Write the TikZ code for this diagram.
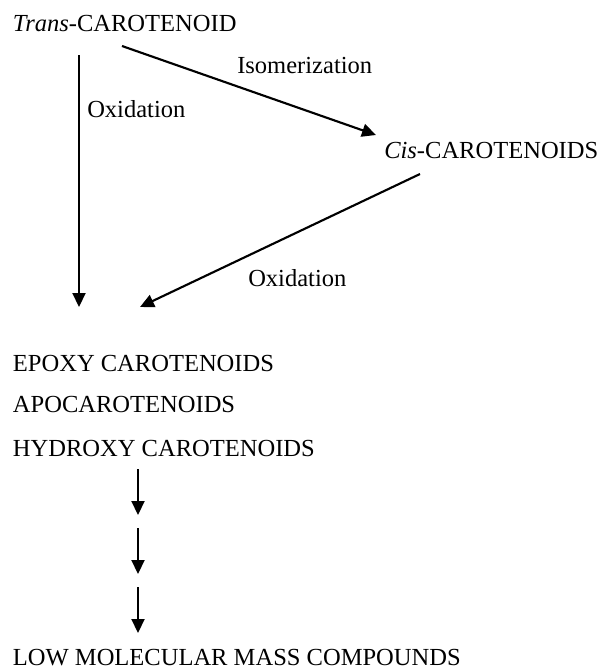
\documentclass[tikz,border=0pt]{standalone}
\usepackage{fontspec}
\setmainfont{Liberation Serif}
\usetikzlibrary{arrows.meta}
\begin{document}
\begin{tikzpicture}[x=0.75pt,y=-0.75pt,
  lbl/.style={anchor=base west,inner sep=0pt,font=\fontsize{18.4}{21}\selectfont},
  arr/.style={line width=1.6pt,-{Triangle[length=10.5pt,width=9.75pt]}}]
\useasboundingbox (0,0) rectangle (600,668);
% main texts
\node[lbl] (trans) at (12.7,31.7) {\textit{Trans}-CAROTENOID};
\node[lbl] (cis) at (384,158) {\textit{Cis}-CAROTENOIDS};
\node[lbl] (epoxy) at (12.7,371) {EPOXY CAROTENOIDS};
\node[lbl] (apo) at (12.7,412.5) {APOCAROTENOIDS};
\node[lbl] (hydroxy) at (12.7,456) {HYDROXY CAROTENOIDS};
\node[lbl] (low) at (12.7,665.5) {LOW MOLECULAR MASS COMPOUNDS};
% labels
\node[lbl] (ox1) at (87,117) {Oxidation};
\node[lbl] (iso) at (237,73) {Isomerization};
\node[lbl] (ox2) at (248,286) {Oxidation};
% connector ends
\coordinate (a1s) at (79,55);
\coordinate (a1e) at (79,307);
\coordinate (a2s) at (122,46);
\coordinate (a2e) at (376,135);
\coordinate (a3s) at (420,174);
\coordinate (a3e) at (140,307);
\coordinate (s1s) at (138,469);
\coordinate (s1e) at (138,515);
\coordinate (s2s) at (138,528);
\coordinate (s2e) at (138,574);
\coordinate (s3s) at (138,587);
\coordinate (s3e) at (138,633);
% connectors
\draw[arr] (a1s) -- (a1e);
\draw[arr] (a2s) -- (a2e);
\draw[arr] (a3s) -- (a3e);
\draw[arr] (s1s) -- (s1e);
\draw[arr] (s2s) -- (s2e);
\draw[arr] (s3s) -- (s3e);
\end{tikzpicture}
\end{document}
